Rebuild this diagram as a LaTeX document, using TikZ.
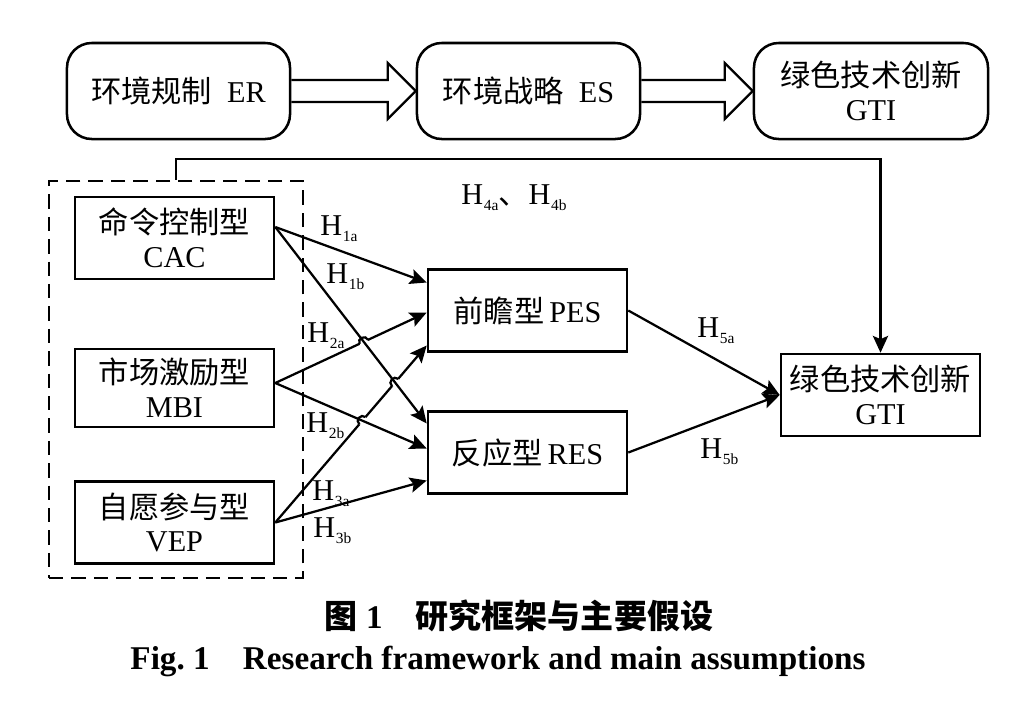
\documentclass[tikz,border=0pt]{standalone}
\usepackage{fontspec}
\setmainfont{Liberation Serif}
\newfontfamily\cjk{Noto Sans CJK SC}
\usetikzlibrary{positioning,arrows.meta,calc,intersections}
\tikzset{
    topbox/.style={
        draw, line width=1.8pt, rounded corners=0.62cm,
        minimum width=5.575cm, minimum height=2.4cm, align=center
    },
    plainbox/.style={
        draw, line width=1.8pt, inner sep=1pt,
        minimum width=4.975cm, minimum height=2.05cm, align=center
    },
    groupbox/.style={
        draw, line width=1.6pt, dash pattern=on 0.36cm off 0.2cm,
        minimum width=6.35cm, minimum height=9.925cm
    },
    link/.style={line width=1.6pt, -{Stealth[length=4.2mm,width=3.8mm,inset=0.8mm]}},
    plainlink/.style={line width=1.6pt},
    fatarrow/.style={line width=1.6pt, line join=miter},
    hyp/.style={anchor=base west, inner sep=0pt},
}
\newcommand{\hsub}[1]{H\kern0.5pt\raisebox{-0.5ex}{\fontsize{11}{11}\selectfont #1}}

\begin{document}
\begin{tikzpicture}[x=0.025cm, y=-0.025cm, font=\fontsize{21.5}{24}\selectfont]
    \useasboundingbox (0,0) rectangle (1032,700);
    % top chain
    \node[topbox] (er) at (178.5,91) {{\cjk 环境规制}\hspace{0.5em}ER};
    \node[topbox] (es) at (528.5,91) {{\cjk 环境战略}\hspace{0.5em}ES};
    \node[topbox, minimum width=5.85cm] (gtitop) at (871,91) {{\cjk 绿色技术创新}\\GTI};
    \draw[fatarrow] ($(er.east)+(0,-11)$) -- ($(es.west)+(-28,-11)$) -- ($(es.west)+(-28,-28)$) -- (es.west)
        -- ($(es.west)+(-28,28)$) -- ($(es.west)+(-28,11)$) -- ($(er.east)+(0,11)$);
    \draw[fatarrow] ($(es.east)+(0,-11)$) -- ($(gtitop.west)+(-28,-11)$) -- ($(gtitop.west)+(-28,-28)$) -- (gtitop.west)
        -- ($(gtitop.west)+(-28,28)$) -- ($(gtitop.west)+(-28,11)$) -- ($(es.east)+(0,11)$);

    % regulation types
    \node[groupbox] (grp) at (176,379.5) {};
    \node[plainbox] (cac) at (174.5,238) {{\cjk 命令控制型}\\CAC};
    \node[plainbox, minimum height=1.95cm] (mbi) at (174.5,388) {{\cjk 市场激励型}\\MBI};
    \node[plainbox] (vep) at (174.5,522.5) {{\cjk 自愿参与型}\\VEP};

    % strategies and outcome
    \node[plainbox] (pes) at (527.5,310.5) {{\cjk 前瞻型}\,PES};
    \node[plainbox] (res) at (527.5,452.5) {{\cjk 反应型}\,RES};
    \node[plainbox] (gti) at (880.5,395) {{\cjk 绿色技术创新}\\GTI};

    \coordinate (cacout) at ($(cac.east)+(0,-11)$);
    \coordinate (mbiout) at ($(mbi.east)+(0,-5)$);
    \coordinate (vepout) at (vep.east);
    \coordinate (pesin1) at ($(pes.west)+(0,-28)$);
    \coordinate (pesin2) at ($(pes.west)+(0,2)$);
    \coordinate (pesin3) at ($(pes.west)+(0,35)$);
    \coordinate (resin1) at ($(res.west)+(0,-29)$);
    \coordinate (resin2) at ($(res.west)+(0,-4)$);
    \coordinate (resin3) at ($(res.west)+(0,28)$);

    % rising arrows first, they carry the hops
    \draw[link, name path=h2a] (mbiout) -- (pesin2);
    \draw[link, name path=h3a] (vepout) -- (pesin3);
    \path[name path=h1b] (cacout) -- (resin1);
    \path[name path=h2b] (mbiout) -- (resin2);
    \path[name intersections={of=h1b and h2a, by=xa}];
    \path[name intersections={of=h1b and h3a, by=xb}];
    \path[name intersections={of=h2b and h3a, by=xc}];
    \foreach \p in {xa,xb,xc} \fill[white] (\p) circle (3.4pt);
    \draw[link] (cacout) -- (pesin1);
    \draw[link] (cacout) -- (resin1);
    \draw[link] (mbiout) -- (resin2);
    \draw[link] (vepout) -- (resin3);
    \draw[plainlink] ($(xa)!3.4pt!(mbiout)$) to[bend left=90, looseness=1.6] ($(xa)!3.4pt!(pesin2)$);
    \draw[plainlink] ($(xb)!3.4pt!(vepout)$) to[bend left=90, looseness=1.6] ($(xb)!3.4pt!(pesin3)$);
    \draw[plainlink] ($(xc)!3.4pt!(vepout)$) to[bend left=90, looseness=1.6] ($(xc)!3.4pt!(pesin3)$);

    \draw[link] (pes.east) -- (gti.west);
    \draw[link] (res.east) -- (gti.west);
    \draw[link] (grp.north) -- ++(0,-21) -| (gti.north);

    % hypotheses
    \node[hyp] (l1a) at (320,235) {\hsub{1a}};
    \node[hyp] (l1b) at (326,283) {\hsub{1b}};
    \node[hyp] (l2a) at (307,342) {\hsub{2a}};
    \node[hyp] (l2b) at (306,432) {\hsub{2b}};
    \node[hyp] (l3a) at (312,500) {\hsub{3a}};
    \node[hyp] (l3b) at (313,537) {\hsub{3b}};
    \node[hyp] (l4) at (461,204) {\hsub{4a}{\cjk 、}\hsub{4b}};
    \node[hyp] (l5a) at (697,337) {\hsub{5a}};
    \node[hyp] (l5b) at (700,458) {\hsub{5b}};

    % caption
    \node[font=\fontsize{23.5}{26}\selectfont] (cap1) at (519,616) {{\cjk\bfseries 图}\ \textbf{1}\quad{\cjk\bfseries 研究框架与主要假设}};
    \node[font=\bfseries\fontsize{23.6}{26}\selectfont] (cap2) at (498,661) {Fig.~1\quad Research framework and main assumptions};
\end{tikzpicture}
\end{document}
